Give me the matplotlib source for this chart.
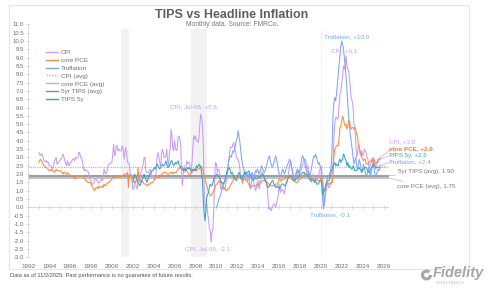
import numpy as np
import matplotlib.pyplot as plt
from matplotlib.patches import Rectangle, Arc
from matplotlib.lines import Line2D

plt.rcParams['font.family'] = ['Liberation Sans', 'DejaVu Sans']

# Monthly YoY values (%)
cpi_start = 1993
cpi = [
    3.3, 3.2, 3.1, 3.2, 3.2, 3.0, 2.8, 2.8, 2.7, 2.8, 2.7, 2.7,
    2.5, 2.5, 2.5, 2.4, 2.3, 2.5, 2.8, 2.9, 3.0, 2.6, 2.7, 2.7,
    2.8, 2.9, 2.9, 3.1, 3.2, 3.0, 2.8, 2.6, 2.5, 2.8, 2.6, 2.5,
    2.7, 2.7, 2.8, 2.9, 2.9, 2.8, 3.0, 2.9, 3.0, 3.0, 3.3, 3.3,
    3.0, 3.0, 2.8, 2.5, 2.2, 2.3, 2.2, 2.2, 2.2, 2.1, 1.8, 1.7,
    1.6, 1.4, 1.4, 1.4, 1.7, 1.7, 1.7, 1.6, 1.5, 1.5, 1.5, 1.6,
    1.7, 1.6, 1.7, 2.3, 2.1, 2.0, 2.1, 2.3, 2.6, 2.6, 2.6, 2.7,
    2.7, 3.2, 3.8, 3.1, 3.2, 3.7, 3.7, 3.4, 3.5, 3.4, 3.4, 3.4,
    3.7, 3.5, 2.9, 3.3, 3.6, 3.2, 2.7, 2.7, 2.6, 2.1, 1.9, 1.6,
    1.1, 1.1, 1.5, 1.6, 1.2, 1.1, 1.5, 1.8, 1.5, 2.0, 2.2, 2.4,
    2.6, 3.0, 3.0, 2.2, 2.1, 2.1, 2.1, 2.2, 2.3, 2.0, 1.8, 1.9,
    1.9, 1.7, 1.7, 2.3, 3.1, 3.3, 3.0, 2.7, 2.5, 3.2, 3.5, 3.3,
    3.0, 3.0, 3.1, 3.5, 2.8, 2.5, 3.2, 3.6, 4.7, 4.3, 3.5, 3.4,
    4.0, 3.6, 3.4, 3.5, 4.2, 4.3, 4.1, 3.8, 2.1, 1.3, 2.0, 2.5,
    2.1, 2.4, 2.8, 2.6, 2.7, 2.7, 2.4, 2.0, 2.8, 3.5, 4.3, 4.1,
    4.3, 4.0, 4.0, 3.9, 4.2, 5.0, 5.6, 5.4, 4.9, 3.7, 1.1, 0.1,
    0.0, 0.2, -0.4, -0.7, -1.3, -1.4, -2.1, -1.5, -1.3, -0.2, 1.8, 2.7,
    2.6, 2.1, 2.3, 2.2, 2.0, 1.1, 1.2, 1.1, 1.1, 1.2, 1.1, 1.5,
    1.6, 2.1, 2.7, 3.2, 3.6, 3.6, 3.6, 3.8, 3.9, 3.5, 3.4, 3.0,
    2.9, 2.9, 2.7, 2.3, 1.7, 1.7, 1.4, 1.7, 2.0, 2.2, 1.8, 1.7,
    1.6, 2.0, 1.5, 1.1, 1.4, 1.8, 2.0, 1.5, 1.2, 1.0, 1.2, 1.5,
    1.6, 1.1, 1.5, 2.0, 2.1, 2.1, 2.0, 1.7, 1.7, 1.7, 1.3, 0.8,
    -0.1, 0.0, -0.1, -0.2, 0.0, 0.1, 0.2, 0.2, 0.0, 0.2, 0.5, 0.7,
    1.4, 1.0, 0.9, 1.1, 1.0, 1.0, 0.8, 1.1, 1.5, 1.6, 1.7, 2.1,
    2.5, 2.7, 2.4, 2.2, 1.9, 1.6, 1.7, 1.9, 2.2, 2.0, 2.2, 2.1,
    2.1, 2.2, 2.4, 2.5, 2.8, 2.9, 2.9, 2.7, 2.3, 2.5, 2.2, 1.9,
    1.6, 1.5, 1.9, 2.0, 1.8, 1.6, 1.8, 1.7, 1.7, 1.8, 2.1, 2.3,
    2.5, 2.3, 1.5, 0.3, 0.1, 0.6, 1.0, 1.3, 1.4, 1.2, 1.2, 1.4,
    1.4, 1.7, 2.6, 4.2, 5.0, 5.4, 5.4, 5.3, 5.4, 6.2, 6.8, 7.0,
    7.5, 7.9, 8.5, 8.3, 8.6, 9.1, 8.5, 8.3, 8.2, 7.7, 7.1, 6.5,
    6.4, 6.0, 5.0, 4.9, 4.0, 3.0, 3.2, 3.7, 3.7, 3.2, 3.1, 3.4,
    3.1, 3.2, 3.5, 3.4, 3.3, 3.0, 2.9, 2.5, 2.4, 2.6, 2.7, 2.9,
    3.0, 2.8, 2.4, 2.3, 2.4, 2.7, 2.7, 2.9, 3.0,
]

core_pce_start = 1993
core_pce = [
    2.7, 2.8, 2.9, 2.8, 2.7, 2.6, 2.5, 2.5, 2.4, 2.4, 2.3, 2.3,
    2.2, 2.2, 2.3, 2.2, 2.2, 2.2, 2.1, 2.2, 2.3, 2.2, 2.2, 2.2,
    2.2, 2.2, 2.1, 2.1, 2.0, 2.1, 2.1, 2.0, 2.0, 2.1, 2.0, 2.0,
    1.9, 1.9, 1.9, 1.8, 1.8, 1.8, 1.7, 1.8, 1.9, 1.9, 1.9, 1.9,
    1.9, 1.9, 1.9, 1.8, 1.8, 1.7, 1.6, 1.6, 1.5, 1.5, 1.5, 1.5,
    1.4, 1.3, 1.2, 1.1, 1.0, 1.1, 1.2, 1.2, 1.1, 1.3, 1.2, 1.2,
    1.2, 1.3, 1.2, 1.4, 1.3, 1.3, 1.4, 1.5, 1.5, 1.5, 1.6, 1.6,
    1.7, 1.8, 1.8, 1.8, 1.8, 1.9, 1.8, 1.8, 1.9, 1.8, 1.9, 1.9,
    1.9, 1.9, 2.0, 2.0, 2.0, 2.0, 2.1, 1.2, 2.0, 1.9, 1.9, 1.9,
    1.7, 1.6, 1.5, 1.5, 1.6, 1.7, 2.4, 1.7, 1.6, 1.6, 1.5, 1.6,
    1.5, 1.4, 1.4, 1.4, 1.3, 1.3, 1.4, 1.4, 1.4, 1.5, 1.5, 1.5,
    1.6, 1.7, 1.8, 1.8, 1.9, 1.9, 1.8, 1.8, 1.9, 2.0, 2.0, 2.1,
    2.1, 2.1, 2.1, 2.0, 2.0, 2.0, 2.0, 2.1, 2.1, 2.1, 2.0, 2.1,
    2.1, 2.1, 2.1, 2.2, 2.3, 2.3, 2.4, 2.4, 2.5, 2.4, 2.3, 2.3,
    2.3, 2.3, 2.2, 2.1, 2.0, 2.0, 2.0, 2.1, 2.1, 2.2, 2.2, 2.3,
    2.3, 2.2, 2.3, 2.3, 2.3, 2.4, 2.5, 2.4, 2.3, 2.1, 1.9, 1.7,
    1.5, 1.3, 1.1, 0.9, 0.8, 0.7, 0.7, 0.8, 0.9, 1.0, 1.1, 1.3,
    1.4, 1.4, 1.5, 1.6, 1.5, 1.5, 1.4, 1.3, 1.2, 1.1, 1.1, 1.0,
    1.0, 1.1, 1.1, 1.2, 1.3, 1.4, 1.5, 1.6, 1.7, 1.8, 1.8, 1.9,
    1.9, 1.9, 1.9, 1.8, 1.8, 1.7, 1.6, 1.6, 1.7, 1.7, 1.6, 1.6,
    1.5, 1.4, 1.3, 1.2, 1.2, 1.3, 1.3, 1.3, 1.3, 1.3, 1.3, 1.4,
    1.3, 1.3, 1.4, 1.5, 1.6, 1.6, 1.6, 1.6, 1.6, 1.5, 1.5, 1.5,
    1.4, 1.4, 1.3, 1.3, 1.3, 1.3, 1.3, 1.3, 1.4, 1.4, 1.4, 1.5,
    1.7, 1.7, 1.6, 1.6, 1.7, 1.7, 1.7, 1.8, 1.8, 1.8, 1.8, 1.9,
    1.9, 1.9, 1.7, 1.7, 1.6, 1.6, 1.6, 1.5, 1.5, 1.5, 1.6, 1.7,
    1.7, 1.7, 1.9, 1.9, 1.9, 2.0, 2.0, 2.0, 1.9, 1.9, 1.9, 2.0,
    1.8, 1.7, 1.6, 1.6, 1.6, 1.6, 1.7, 1.7, 1.6, 1.6, 1.6, 1.6,
    1.8, 1.8, 1.7, 1.0, 1.0, 1.1, 1.3, 1.4, 1.5, 1.4, 1.4, 1.5,
    1.5, 1.5, 2.0, 3.1, 3.5, 3.6, 3.7, 3.7, 3.7, 4.2, 4.8, 4.9,
    5.2, 5.5, 5.3, 5.0, 4.9, 5.0, 4.7, 4.9, 5.2, 5.2, 4.8, 4.7,
    4.8, 4.8, 4.7, 4.8, 4.7, 4.4, 4.3, 3.8, 3.6, 3.4, 3.2, 3.0,
    2.9, 2.8, 2.9, 2.9, 2.6, 2.6, 2.6, 2.7, 2.7, 2.8, 2.8, 2.9,
    2.7, 2.9, 2.7, 2.6, 2.7, 2.8, 2.9, 2.9, 2.9,
]

truflation_start = 2010
truflation = [
    0.0, 0.1, 0.3, 0.5, 0.6, 0.8, 1.0, 1.2, 1.3, 1.5, 1.7, 1.9,
    2.1, 2.4, 2.8, 3.0, 3.1, 3.0, 3.2, 3.4, 3.3, 3.5, 3.8, 4.0,
    4.2, 4.6, 4.3, 3.9, 3.4, 2.9, 2.6, 2.4, 2.2, 2.0, 2.1, 1.9,
    2.0, 1.8, 1.7, 1.9, 2.0, 2.1, 1.9, 1.8, 2.0, 2.2, 2.1, 2.3,
    2.2, 2.0, 2.1, 2.3, 2.5, 2.4, 2.2, 2.1, 2.2, 2.4, 2.6, 2.8,
    3.0, 3.1, 2.8, 2.6, 2.4, 2.5, 2.7, 2.9, 3.1, 2.9, 2.6, 2.3,
    2.0, 1.8, 1.9, 2.1, 2.3, 2.2, 2.0, 2.1, 2.3, 2.5, 2.6, 2.7,
    2.9, 2.8, 2.6, 2.3, 2.0, 1.8, 1.7, 1.9, 2.1, 2.3, 2.2, 2.0,
    2.3, 2.6, 2.9, 3.1, 3.0, 2.8, 2.5, 2.3, 2.1, 2.2, 2.0, 1.8,
    2.0, 2.3, 2.6, 2.9, 3.1, 3.0, 3.2, 3.0, 2.8, 2.6, 2.7, 2.5,
    2.4, 1.6, 0.6, -0.1, 0.4, 0.9, 1.4, 1.6, 1.8, 1.9, 2.0, 2.2,
    2.6, 3.8, 5.6, 6.3, 6.6, 6.4, 6.8, 7.4, 8.0, 8.6, 9.2, 9.7,
    10.0, 9.8, 9.5, 9.0, 8.5, 7.8, 7.0, 6.2, 5.4, 4.8, 4.3, 3.9,
    3.5, 3.0, 2.6, 2.8, 3.0, 2.6, 2.3, 2.5, 2.9, 2.7, 2.4, 2.2,
    2.3, 2.6, 2.4, 2.1, 1.9, 2.0, 2.2, 2.4, 2.1, 1.9, 2.1, 2.5,
    2.7, 2.4, 2.0, 1.8, 2.0, 2.2, 2.3, 2.2, 2.4,
]

tips_start = 2002
tips_5y = [
    1.5, 1.7, 2.0, 1.9, 1.8, 1.6, 1.5, 1.4, 1.3, 1.4, 1.6, 1.7,
    1.8, 2.0, 1.8, 1.7, 1.5, 1.6, 1.8, 2.0, 2.0, 2.1, 2.2, 2.2,
    2.3, 2.4, 2.3, 2.5, 2.6, 2.5, 2.4, 2.3, 2.4, 2.5, 2.6, 2.5,
    2.5, 2.6, 2.8, 2.6, 2.4, 2.4, 2.5, 2.6, 2.8, 2.8, 2.6, 2.5,
    2.6, 2.7, 2.6, 2.7, 2.8, 2.6, 2.5, 2.4, 2.3, 2.3, 2.2, 2.3,
    2.3, 2.2, 2.3, 2.4, 2.3, 2.4, 2.3, 2.2, 2.2, 2.3, 2.2, 2.3,
    2.2, 2.5, 2.4, 2.5, 2.6, 2.5, 2.4, 2.1, 1.6, 0.4, -0.4, -0.8,
    -0.1, 0.6, 0.8, 0.9, 1.2, 1.4, 1.3, 1.3, 1.5, 1.7, 1.8, 1.9,
    2.0, 2.0, 1.9, 1.9, 1.7, 1.6, 1.5, 1.5, 1.4, 1.5, 1.6, 1.8,
    2.1, 2.3, 2.3, 2.4, 2.2, 2.0, 2.1, 2.0, 1.8, 1.7, 1.7, 1.6,
    1.8, 2.0, 2.1, 2.0, 1.8, 1.7, 1.7, 1.9, 2.1, 2.1, 2.0, 2.1,
    2.1, 2.2, 2.1, 1.9, 1.9, 1.7, 1.6, 1.7, 1.8, 1.7, 1.7, 1.7,
    1.8, 1.8, 1.8, 1.9, 1.9, 2.0, 1.9, 1.8, 1.6, 1.5, 1.4, 1.2,
    1.2, 1.3, 1.4, 1.5, 1.6, 1.6, 1.4, 1.3, 1.2, 1.2, 1.3, 1.2,
    1.2, 1.1, 1.3, 1.4, 1.4, 1.4, 1.3, 1.3, 1.4, 1.5, 1.7, 1.8,
    1.9, 1.9, 1.9, 1.8, 1.7, 1.6, 1.6, 1.7, 1.7, 1.8, 1.8, 1.9,
    2.0, 2.0, 2.0, 2.1, 2.1, 2.1, 2.0, 2.0, 2.0, 2.0, 1.8, 1.7,
    1.6, 1.7, 1.7, 1.7, 1.6, 1.5, 1.6, 1.4, 1.4, 1.4, 1.5, 1.6,
    1.6, 1.4, 0.7, 0.9, 1.0, 1.2, 1.4, 1.6, 1.6, 1.6, 1.7, 1.9,
    2.2, 2.3, 2.5, 2.6, 2.7, 2.5, 2.6, 2.5, 2.5, 2.8, 2.9, 2.7,
    2.8, 2.9, 3.2, 3.1, 2.9, 2.8, 2.5, 2.7, 2.4, 2.5, 2.4, 2.3,
    2.3, 2.5, 2.4, 2.2, 2.2, 2.2, 2.3, 2.3, 2.4, 2.3, 2.2, 2.1,
    2.2, 2.3, 2.4, 2.4, 2.4, 2.3, 2.2, 2.1, 2.1, 2.3, 2.4, 2.4,
    2.5, 2.6, 2.5, 2.4, 2.4, 2.4, 2.4, 2.4, 2.5,
]

cpi_avg = 2.42
core_pce_avg = 1.75
tips_avg = 1.90

# Recession shading as it sits on the chart
recessions = [(2000.85, 2001.6), (2007.6, 2009.1), (2019.97, 2020.1)]

c_cpi = '#c99cf5'
c_pce = '#ff8a3d'
c_tru = '#7fa6f5'
c_tips = '#35a4c0'
c_cpi_avg = '#ffa066'
c_pce_avg = '#b8b8b8'
c_tips_avg = '#8c8c8c'


def month_axis(start, vals):
    return start + np.arange(len(vals)) / 12


fig = plt.figure(figsize=(5.0, 2.91), dpi=100)
ax = fig.add_axes([0.0566, 0.1158, 0.722, 0.8007])

for r0, r1 in recessions:
    ax.axvspan(r0, r1, ymin=0, ymax=0.98, color='#f2f2f2', lw=0, zorder=0)

ax.axhline(0, color='#d3d3d3', lw=0.6, zorder=1)
yrs = np.arange(1992, 2027)
ax.plot(yrs, np.zeros(len(yrs)), ls='none', marker='|', ms=2.5, mew=0.5, color='#c8c8c8', zorder=1)

ax.axhline(cpi_avg, color=c_cpi_avg, lw=0.8, ls=(0, (1, 1)), zorder=2)
ax.axhline(core_pce_avg, color=c_pce_avg, lw=1.2, zorder=2)
ax.axhline(tips_avg, color=c_tips_avg, lw=1.2, zorder=2)

series = [
    ('CPI', cpi_start, cpi, c_cpi),
    ('core PCE', core_pce_start, core_pce, c_pce),
    ('Truflation', truflation_start, truflation, c_tru),
    ('TIPS 5y', tips_start, tips_5y, c_tips),
]
ends = {}
for name, start, vals, col in series:
    x = month_axis(start, vals)
    ax.plot(x, vals, color=col, lw=0.75, zorder=3)
    ends[name] = (x[-1], vals[-1])

ax.set_xlim(1992, 2026.55)
ax.set_ylim(-3, 11)
ax.set_yticks(np.arange(-3, 11.01, 0.5))
ax.set_yticklabels([f'{v:.1f}' for v in np.arange(-3, 11.01, 0.5)])
ax.set_xticks(np.arange(1992, 2027, 2))
ax.tick_params(axis='y', direction='inout', length=3, width=0.5, color='#cfcfcf',
               labelsize=4.3, labelcolor='#707070', pad=1.5)
ax.tick_params(axis='x', length=0, labelsize=4.6, labelcolor='#707070', pad=4.5)
for s in ['top', 'right', 'bottom']:
    ax.spines[s].set_visible(False)
ax.spines['left'].set_color('#d9d9d9')
ax.spines['left'].set_linewidth(0.6)

# Point labels
fs = 4.5
ax.text(2022.5, 10.26, 'Truflation, +10.0', color=c_tru, fontsize=fs, ha='center', va='center')
ax.text(2022.2, 9.42, 'CPI, +9.1', color=c_cpi, fontsize=fs, ha='center', va='center')
ax.text(2007.8, 6.02, 'CPI, Jul-08, +5.6', color=c_cpi, fontsize=fs, ha='center', va='center')
ax.text(2009.2, -2.46, 'CPI, Jul-09, -2.1', color=c_cpi, fontsize=fs, ha='center', va='center')
ax.text(2020.9, -0.44, 'Truflation, -0.1', color=c_tru, fontsize=fs, ha='center', va='center')

# End-of-series labels
end_labels = [
    ('CPI', 'CPI, +3.0', 3.95, c_cpi, 'normal'),
    ('core PCE', 'core PCE, +2.9', 3.55, '#f47a2a', 'bold'),
    ('TIPS 5y', 'TIPS 5y, +2.5', 3.09, c_tips, 'normal'),
    ('Truflation', 'Truflation, +2.4', 2.71, c_tru, 'normal'),
]
for key, txt, ly, col, fw in end_labels:
    ax.annotate(txt, xy=ends[key], xytext=(2026.5, ly), color=col, fontsize=fs,
                fontweight=fw, ha='left', va='center', annotation_clip=False,
                arrowprops=dict(arrowstyle='-', color='#a8a8a8', lw=0.4, shrinkA=0, shrinkB=0))

ax.annotate('5yr TIPS (avg), 1.90', xy=(2026.55, tips_avg), xytext=(2027.4, 2.15),
            color='#7a7a7a', fontsize=fs, ha='left', va='center', annotation_clip=False,
            arrowprops=dict(arrowstyle='-', color='#a8a8a8', lw=0.4, shrinkA=0, shrinkB=0))
ax.annotate('core PCE (avg), 1.75', xy=(2026.55, core_pce_avg), xytext=(2027.3, 1.25),
            color='#7a7a7a', fontsize=fs, ha='left', va='center', annotation_clip=False,
            arrowprops=dict(arrowstyle='-', color='#a8a8a8', lw=0.4, shrinkA=0, shrinkB=0))

# Legend
handles = [
    Line2D([], [], color=c_cpi, lw=1.0),
    Line2D([], [], color=c_pce, lw=1.0),
    Line2D([], [], color=c_tru, lw=1.0),
    Line2D([], [], color=c_cpi_avg, lw=1.0, ls=(0, (1, 1))),
    Line2D([], [], color=c_pce_avg, lw=1.0),
    Line2D([], [], color=c_tips_avg, lw=1.0),
    Line2D([], [], color=c_tips, lw=1.0),
]
labels = ['CPI', 'core PCE', 'Truflation', 'CPI (avg)', 'core PCE (avg)', '5yr TIPS (avg)', 'TIPS 5y']
leg = fig.legend(handles, labels, loc='upper left', bbox_to_anchor=(0.092, 0.83),
                 frameon=False, fontsize=4.6, handlelength=1.9, handletextpad=0.45,
                 labelspacing=0.38, borderpad=0, borderaxespad=0)
for t in leg.get_texts():
    t.set_color('#707070')

# Card, titles, footer
fig.add_artist(Rectangle((0.018, 0.0756), 0.92, 0.907, transform=fig.transFigure,
                         fill=False, ec='#e6e6e6', lw=0.8))
fig.text(0.464, 1 - 15 / 291, 'TIPS vs Headline Inflation', ha='center', va='center',
         fontsize=9, fontweight='bold', color='#5f5f5f')
fig.text(0.464, 1 - 25 / 291, 'Monthly data. Source: FMRCo.', ha='center', va='center',
         fontsize=4.9, color='#7a7a7a')
fig.text(0.02, 1 - 276 / 291, 'Data as of 11/2/2025. Past performance is no guarantee of future results.',
         ha='left', va='center', fontsize=4.1, color='#505050')

# Fidelity mark
fig.add_artist(Arc((0.853, 1 - 275 / 291), 0.016, 0.027, theta1=60, theta2=360,
                   transform=fig.transFigure, color='#a6a6a6', lw=2.2))
fig.text(0.866, 1 - 273 / 291, 'Fidelity', ha='left', va='center', fontsize=10.5,
         fontweight='bold', fontstyle='italic', color='#a6a6a6')
fig.text(0.873, 1 - 282.5 / 291, 'I N V E S T M E N T S', ha='left', va='center', fontsize=2.0,
         color='#a6a6a6')

fig.savefig('out.png', dpi=100)
plt.close(fig)
